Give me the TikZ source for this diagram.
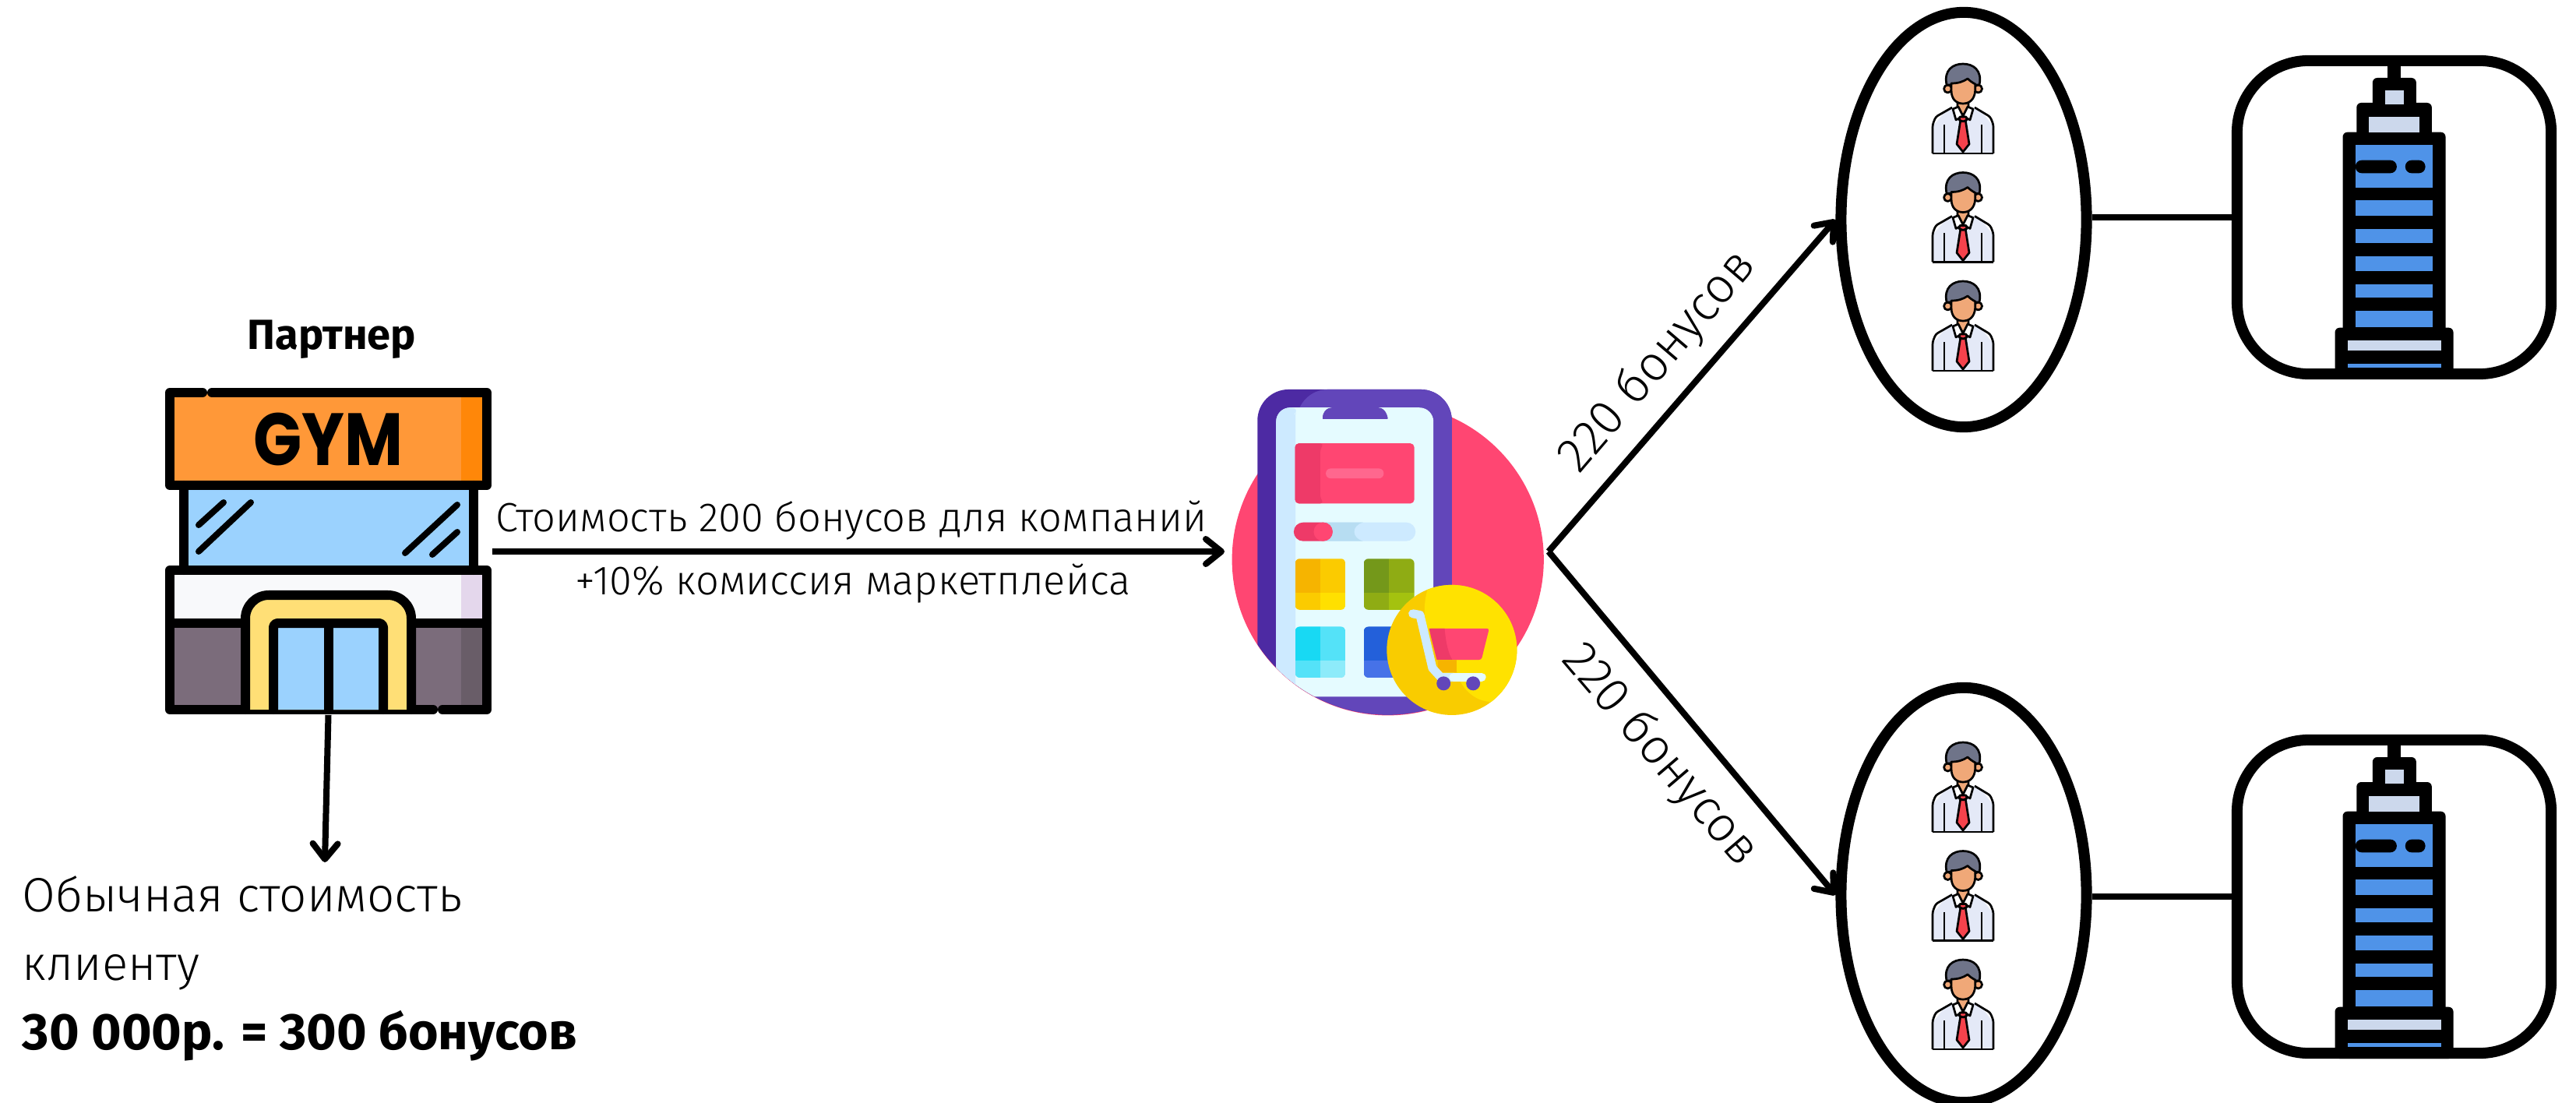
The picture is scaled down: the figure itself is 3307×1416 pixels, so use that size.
\documentclass[tikz,border=0pt]{standalone}
\usepackage{fontspec}
\setmainfont{Fira Sans}[UprightFont=* Light,BoldFont=* Bold]
\newfontfamily\signfont{Poppins}[UprightFont=* Bold]
\usetikzlibrary{arrows.meta,shapes.geometric,calc}
\definecolor{pinkapp}{HTML}{FF4672}
\definecolor{pinkdark}{HTML}{EE3A68}
\definecolor{pinksoft}{HTML}{FF678E}
\definecolor{purplelight}{HTML}{6246BA}
\definecolor{purpledark}{HTML}{4D2AA3}
\definecolor{screenlight}{HTML}{E5FBFF}
\definecolor{screendark}{HTML}{CDEAFF}
\definecolor{sliderdark}{HTML}{B7DDF2}
\definecolor{badgelight}{HTML}{FFE200}
\definecolor{badgedark}{HTML}{F9CC00}
\definecolor{tileyellowa}{HTML}{F6B400}
\definecolor{tileyellowb}{HTML}{FBCB00}
\definecolor{tileyellowc}{HTML}{FFE000}
\definecolor{tilegreena}{HTML}{74981A}
\definecolor{tilegreenb}{HTML}{8FAC14}
\definecolor{tilegreenc}{HTML}{A4C20F}
\definecolor{tilecyana}{HTML}{18D9F3}
\definecolor{tilecyanb}{HTML}{54E2F8}
\definecolor{tilecyanc}{HTML}{8DEBFA}
\definecolor{tilebluea}{HTML}{2360DA}
\definecolor{tileblueb}{HTML}{4672E8}
\definecolor{gymorange}{HTML}{FF9838}
\definecolor{gymorangedark}{HTML}{FF8709}
\definecolor{gymglass}{HTML}{9BD2FE}
\definecolor{gymwall}{HTML}{7B6C7B}
\definecolor{gymwalldark}{HTML}{695D68}
\definecolor{gymdoor}{HTML}{FFDF76}
\definecolor{gymband}{HTML}{F8F9FB}
\definecolor{gymbanddark}{HTML}{E4D7EC}
\definecolor{towerblue}{HTML}{4F93E8}
\definecolor{towergrey}{HTML}{CCD8EC}
\definecolor{shirtcol}{HTML}{E4E9F7}
\definecolor{hairgrey}{HTML}{6F7489}
\definecolor{facecol}{HTML}{F0A878}
\definecolor{tiecol}{HTML}{F5424C}
\newcommand{\apptile}[6]{
  \begin{scope}
    \clip[rounded corners=0.06cm] (#1,#2) rectangle ++(195,197);
    \fill[#3] (#1,#2) rectangle ++(98,132);
    \fill[#4] ($(#1,#2)+(98,0)$) rectangle ++(97,132);
    \fill[#5] ($(#1,#2)+(0,132)$) rectangle ++(98,65);
    \fill[#6] ($(#1,#2)+(98,132)$) rectangle ++(97,65);
  \end{scope}
}
\tikzset{
  flow/.style={line width=0.08cm,-{Straight Barb[length=0.2cm,width=0.32cm,round]}},
  link/.style={line width=0.08cm},
  gymline/.style={line width=0.12cm,line cap=round,line join=round},
  thinline/.style={draw=black,line width=0.027cm,line join=round},
  group/.style={ellipse,draw,line width=0.14cm,minimum width=3.15cm,minimum height=5.32cm,inner sep=0pt},
  office/.style={rectangle,draw,line width=0.14cm,rounded corners=0.92cm,minimum width=4.03cm,minimum height=4.02cm,inner sep=0pt},
  caption/.style={inner sep=0pt,font=\fontsize{14.9}{17}\selectfont},
  bigcaption/.style={inner sep=0pt,anchor=base west,font=\fontsize{17.6}{21}\selectfont},
  bonuscaption/.style={inner sep=0pt,anchor=base west,font=\fontsize{18}{21}\selectfont},
  person/.pic={
    \fill[shirtcol] (-39,57) -- (-39,17) to[out=-90,in=190] (-14,-2) -- (15,-2) to[out=-10,in=-90] (39,17) -- (39,57) -- cycle;
    \draw[thinline,rounded corners=0.03cm] (-39,57) -- (-39,20) -- (-35,10) -- (-14,-2);
    \draw[thinline,rounded corners=0.03cm] (39,57) -- (39,20) -- (35,10) -- (15,-2);
    \draw[thinline] (-39,57) -- (39,57);
    \draw[thinline] (-24,20) -- (-24,56) (24,20) -- (24,56);
    \filldraw[thinline,fill=facecol] (-7,-12) -- (-7,-3) -- (0,9) -- (7,-3) -- (7,-12) -- cycle;
    \filldraw[thinline,fill=white] (-13,0) -- (-6,-3) -- (0,9) -- (-9,14) -- cycle;
    \filldraw[thinline,fill=white] (13,0) -- (6,-3) -- (0,9) -- (9,14) -- cycle;
    \filldraw[thinline,fill=tiecol] (-3.3,15) -- (3.3,15) -- (8,45) -- (0,55) -- (-8,45) -- cycle;
    \filldraw[thinline,fill=tiecol] (-4,10) -- (4,10) -- (5,14) -- (0,16) -- (-5,14) -- cycle;
    \filldraw[thinline,fill=facecol] (-19.5,-26) circle[radius=5];
    \filldraw[thinline,fill=facecol] (19.5,-26) circle[radius=5];
    \filldraw[thinline,fill=hairgrey] (-21,-31) .. controls (-25,-50) and (-13,-58) .. (0,-58) .. controls (13,-58) and (25,-50) .. (21,-31) -- cycle;
    \filldraw[thinline,fill=facecol] (-15,-33) .. controls (-6,-33) and (0,-35) .. (6,-39) .. controls (9,-36) and (12,-34) .. (15.7,-32) -- (15.7,-24) .. controls (15,-12) and (8,-7) .. (0,-7) .. controls (-8,-7) and (-15,-12) .. (-15,-24) -- cycle;
  },
  tower/.pic={
    \fill (-8.3,-198) rectangle (8.3,-170);
    \fill[rounded corners=0.06cm] (-27.7,-179) rectangle (28.3,-130);
    \fill[rounded corners=0.06cm] (-48.3,-147) rectangle (48.3,-95);
    \fill[rounded corners=0.06cm] (-66,-109.3) rectangle (66,160);
    \fill[rounded corners=0.06cm] (-76,141.7) rectangle (76,208);
    \fill[towergrey] (-11.7,-162.7) rectangle (12.3,-145);
    \fill[towergrey] (-32.3,-128.7) rectangle (32.3,-109.3);
    \fill[towerblue] (-49.7,-92.7) rectangle (49.7,-38.3);
    \fill[rounded corners=0.08cm] (-49.7,-73.3) -- (3.3,-73.3) -- (3.3,-56.7) -- (-49.7,-56.7) -- cycle;
    \fill[rounded corners=0.08cm] (14.3,-73.3) rectangle (40,-56.7);
    \fill[towerblue] (-49.7,-21.7) rectangle (49.7,-2);
    \fill[towerblue] (-49.7,14.7) rectangle (49.7,33.3);
    \fill[towerblue] (-49.7,50) rectangle (49.7,69.3);
    \fill[towerblue] (-49.7,86) rectangle (49.7,103.3);
    \fill[towerblue] (-49.7,120.3) rectangle (49.7,141);
    \fill[towergrey] (-60,158) rectangle (60,171.3);
    \fill[towerblue] (-60,188) rectangle (60,193);
  }
}
\begin{document}
\begin{tikzpicture}[x=0.01cm,y=-0.01cm]
  \useasboundingbox (0,0) rectangle (3307,1416);
  \node[rectangle,inner sep=0pt,minimum width=4.19cm,minimum height=4.19cm] (partner) at (421.5,707.5) {};
  \fill[gymorange] (218,504) rectangle (625,623);
  \fill[gymorangedark] (592,504) rectangle (625,623);
  \fill[gymglass] (236,623) rectangle (608,732);
  \fill[gymband] (218,732) rectangle (625,800);
  \fill[gymbanddark] (592,737) rectangle (619,795);
  \fill[gymwall] (218,800) rectangle (625,911);
  \fill[gymwalldark] (592,800) rectangle (625,911);
  \draw[gymline] (260,504) -- (218,504) -- (218,623) -- (625,623) -- (625,504) -- (272,504);
  \draw[gymline] (236,623) -- (236,732) (608,623) -- (608,732);
  \draw[gymline] (568,911) -- (625,911) -- (625,732) -- (218,732) -- (218,911) -- (556,911);
  \draw[gymline] (218,800) -- (625,800);
  \filldraw[gymline,fill=gymdoor,rounded corners=0.3cm] (315,911) -- (315,764) -- (528,764) -- (528,911);
  \filldraw[gymline,fill=gymglass,rounded corners=0.05cm] (351,911) -- (351,800) -- (492,800) -- (492,911);
  \draw[gymline] (421.5,800) -- (421.5,911);
  \draw[gymline,line width=0.08cm] (255,674) -- (287,645) (255,708) -- (322,645);
  \draw[gymline,line width=0.08cm] (520,710) -- (587,648) (555,712) -- (587,683);
  \node[inner sep=0pt,transform shape,xscale=0.86,font=\signfont\fontsize{27}{30}\selectfont] (gymsign) at (421,564) {GYM};
  \node[anchor=base,inner sep=0pt,font=\bfseries\fontsize{15.4}{18}\selectfont] (partnertitle) at (426,449) {Партнер};

  \node[circle,fill=pinkapp,inner sep=0pt,minimum size=4cm] (market) at (1781.7,718.3) {};
  \begin{scope}[shift={(1560,470)},x=0.003333cm,y=-0.003333cm]
    \begin{scope}
      \clip (0,1000) rectangle (1440,0) (665,745) circle[radius=600];
      \fill[purpledark,rounded corners=0.4cm] (163,90) rectangle (913,1345);
      \fill[purplelight,rounded corners=0.4cm] (315,90) rectangle (913,1345);
      \fill[screenlight,rounded corners=0.18cm] (235,160) -- (395,160) .. controls (415,160) and (410,205) .. (470,205) -- (610,205) .. controls (670,205) and (660,160) .. (685,160) -- (842,160) -- (842,1275) -- (235,1275) -- cycle;
      \fill[screendark,rounded corners=0.18cm] (235,160) -- (340,160) .. controls (320,175) and (310,195) .. (310,230) -- (310,1275) -- (235,1275) -- cycle;
    \end{scope}
    \fill[pinkapp,rounded corners=0.05cm] (308,298) rectangle (768,530);
    \fill[pinkdark,rounded corners=0.05cm] (308,298) -- (420,298) -- (405,320) -- (405,510) -- (420,530) -- (308,530) -- cycle;
    \fill[pinksoft,rounded corners=0.06cm] (427,395) rectangle (650,433);
    \fill[screendark,rounded corners=0.12cm] (303,603) rectangle (773,675);
    \fill[sliderdark] (420,603) -- (570,603) .. controls (525,615) and (525,663) .. (570,675) -- (420,675) -- cycle;
    \fill[pinkdark,rounded corners=0.12cm] (303,603) rectangle (453,675);
    \fill[pinkapp,rounded corners=0.12cm] (380,603) rectangle (453,675);
    \apptile{308}{743}{tileyellowa}{tileyellowb}{tileyellowb}{tileyellowc}
    \apptile{573}{743}{tilegreena}{tilegreenb}{tilegreenb}{tilegreenc}
    \apptile{308}{1005}{tilecyana}{tilecyanb}{tilecyanb}{tilecyanc}
    \apptile{573}{1005}{tilebluea}{tilebluea}{tileblueb}{tileblueb}
    \fill[badgedark] (913,1095) circle[radius=251];
    \begin{scope}
      \clip (913,1095) circle[radius=251];
      \fill[badgelight] (825,840) .. controls (790,950) and (800,1060) .. (930,1130) .. controls (920,1210) and (980,1290) .. (1060,1295) -- (1200,1295) -- (1200,830) -- cycle;
    \end{scope}
    \fill[pinkapp,rounded corners=0.03cm] (825,1012) -- (1057,1012) -- (1027,1133) -- (855,1133) -- cycle;
    \fill[pinkdark] (825,1012) -- (885,1012) .. controls (890,1070) and (900,1110) .. (915,1133) -- (855,1133) -- cycle;
    \fill[tileyellowa] (858,1133) rectangle (930,1182);
    \draw[screendark,line width=0.11cm,line cap=round,line join=round] (762,955) -- (790,960) -- (838,1165) -- (870,1200) -- (920,1200);
    \draw[screenlight,line width=0.11cm,line cap=round] (920,1200) -- (1028,1200);
    \fill[purplelight] (881,1224) circle[radius=27];
    \fill[purplelight] (995,1224) circle[radius=27];
  \end{scope}

  \coordinate (marketin) at (1572,708);
  \coordinate (priceend) at (417,1107);
  \coordinate (split) at (1988,708);
  \draw[flow] (partner.east |- marketin) -- (marketin);
  \draw[flow] (partner.south) -- (priceend);
  \node[caption,anchor=base] (partnerprice) at (1093,682) {Стоимость 200 бонусов для компаний};
  \node[caption,anchor=base] (partnerfee) at (1095,763) {+10\% комиссия маркетплейса};
  \node[bigcaption] (usualprice) at (28,1170) {Обычная стоимость};
  \node[bigcaption] (usualclient) at (28,1258) {клиенту};
  \node[bigcaption,font=\bfseries\fontsize{18.8}{22}\selectfont] (usualbonus) at (28,1347) {30 000р. = 300 бонусов};

  \node[group] (groupa) at (2521,282) {};
  \node[group] (groupb) at (2521,1149) {};
  \node[office] (officea) at (3073.5,279) {};
  \node[office] (officeb) at (3073.5,1151) {};
  \draw[flow] (split) -- (groupa.west);
  \draw[flow] (split) -- (groupb.west);
  \draw[link] (officea.west -| groupa.east) -- (officea.west);
  \draw[link] (officeb.west -| groupb.east) -- (officeb.west);
  \node[bonuscaption,rotate=49.5] (bonusa) at (2027,610) {220 бонусов};
  \node[bonuscaption,rotate=-49.5] (bonusb) at (2003,847) {220 бонусов};

  \pic at (2520,140) {person};
  \pic at (2520,279.5) {person};
  \pic at (2520,419) {person};
  \pic at (2520,1011) {person};
  \pic at (2520,1150.5) {person};
  \pic at (2520,1290) {person};
  \pic at (3073.5,279) {tower};
  \pic at (3073.5,1151) {tower};
\end{tikzpicture}
\end{document}
